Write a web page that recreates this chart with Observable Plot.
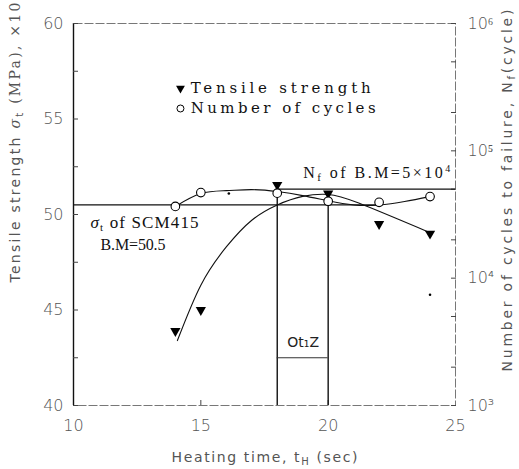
<!DOCTYPE html>
<html>
<head>
<meta charset="utf-8">
<script src="https://cdn.jsdelivr.net/npm/d3@7"></script>
<script src="https://cdn.jsdelivr.net/npm/@observablehq/plot@0.6"></script>
<style>
  html, body { margin: 0; padding: 0; background: #fff; }
  #wrap { position: relative; width: 519px; height: 469px; }
  #wrap > svg { position: absolute; left: 0; top: 0; }
</style>
</head>
<body>
<div id="wrap"></div>
<script>
// ---------- data ----------
const times = [14, 15, 18, 20, 22, 24];
const tensile = [43.9, 45.0, 51.55, 51.1, 49.5, 49.0];          // sigma_t (MPa) x10
const cycles = [36600, 47000, 46500, 40200, 39400, 43700];       // Nf (cycles)
const strayX = [16.1, 24];
const strayY = [51.1, 45.8];
const tensileFitX = [14.08, 15, 16, 17, 18, 19, 20, 21.2, 24];
const tensileFitY = [43.4, 46.3, 48.3, 49.7, 50.5, 50.95, 51.05, 50.6, 49.05];
const cyclesFitX = [14, 15, 16, 17, 18, 19, 20, 21, 22, 23, 24];
const cyclesFitN = [36600, 46200, 48700, 49600, 47900, 44500, 40500, 37600, 37600, 40000, 43700];
const sigmaBM = 50.5;
const nfBM = 5e4;
const markTimes = [18, 20];
const markTops = [51.5, 51.1];
const otzLevel = 42.5;
const xTicks = [10, 15, 20, 25];
const yTicks = [40, 45, 50, 55, 60];
const yMinor = [42.5, 47.5, 52.5, 57.5];
const nTicks = [1e3, 1e4, 1e5, 1e6];
const nMinor = [2e3, 5e3, 2e4, 5e4, 2e5, 5e5];
const legendLabels = ["Tensile strength", "Number of cycles"];
const xLabel = "Heating time, tH (sec)";
const yLabel = "Tensile strength σt (MPa), ×10";
const nLabel = "Number of cycles to failure, Nf(cycle)";
const noteNf = "Nf of B.M=5×104";
const noteSigma = "σt of SCM415";
const noteBM = "B.M=50.5";
const noteOtz = "Ot₁Z";

const W = 519, H = 469;
const M = {marginLeft: 73, marginRight: 64, marginTop: 23, marginBottom: 64};
const sans = "DejaVu Sans";
const serif = "DejaVu Serif";
const times_ = "Liberation Serif";
const grey = "#555";

const tens = times.map((t, i) => ({t, v: tensile[i]}));
const cyc = times.map((t, i) => ({t, n: cycles[i]}));
const stray = strayX.map((t, i) => ({t, v: strayY[i]}));
const tFit = tensileFitX.map((t, i) => ({t, v: tensileFitY[i]}));
const cFit = cyclesFitX.map((t, i) => ({t, n: cyclesFitN[i]}));
const marks = markTimes.map((t, i) => ({t, top: markTops[i]}));

const main = Plot.plot({
  width: W, height: H, ...M,
  x: {domain: [10, 25]},
  y: {domain: [40, 60]},
  style: {background: "transparent", fontFamily: sans},
  marks: [
    Plot.frame({stroke: "#777", strokeDasharray: "9 2"}),
    Plot.ruleX([10], {stroke: "#111", strokeWidth: 1.4}),
    Plot.axisX({ticks: xTicks, tickSize: 0, tickPadding: 14, fontSize: 16, fill: grey, fontWeight: 300, label: null}),
    Plot.axisX({ticks: [15, 20], tickSize: -5, tickFormat: () => "", label: null, stroke: "#444"}),
    Plot.axisY({ticks: yTicks, tickSize: 0, tickPadding: 10, fontSize: 16, fill: grey, fontWeight: 300, label: null}),
    Plot.axisY({ticks: [...yTicks, ...yMinor], tickSize: -5, tickFormat: () => "", label: null, stroke: "#444"}),
    // reference levels
    Plot.ruleY([sigmaBM], {x1: 10, x2: 22, stroke: "#111", strokeWidth: 1.2}),
    Plot.ruleX(marks, {x: "t", y1: 40, y2: "top", stroke: "#111", strokeWidth: 1.4}),
    Plot.ruleY([otzLevel], {x1: markTimes[0], x2: markTimes[1], stroke: "#333", strokeWidth: 1}),
    // fitted tensile curve
    Plot.line(tFit, {x: "t", y: "v", curve: "natural", stroke: "#111", strokeWidth: 1.1}),
    Plot.dot(tens, {x: "t", y: "v", symbol: "triangle", rotate: 180, r: 3.8, fill: "#000", stroke: "none"}),
    Plot.dot(stray, {x: "t", y: "v", r: 1.3, fill: "#000", stroke: "none"}),
    // legend
    Plot.dot([legendLabels[0]], {x: 14.2, y: 56.6, symbol: "triangle", rotate: 180, r: 3.3, fill: "#000", stroke: "none"}),
    Plot.dot([legendLabels[1]], {x: 14.2, y: 55.55, r: 3.5, stroke: "#000", fill: "#fff", strokeWidth: 1}),
    Plot.text([legendLabels[0]], {x: 14.6, y: 56.6, text: d => d, textAnchor: "start", fontFamily: serif, fontSize: 15, fill: "#111"}),
    Plot.text([legendLabels[1]], {x: 14.6, y: 55.55, text: d => d, textAnchor: "start", fontFamily: serif, fontSize: 15, fill: "#111"}),
    // annotations
    Plot.text([noteNf], {x: 19.02, y: 52.2, text: d => d, textAnchor: "start", fontFamily: times_, fontSize: 16, fill: "#111"}),
    Plot.text([noteSigma], {x: 10.67, y: 49.6, text: d => d, textAnchor: "start", fontFamily: times_, fontSize: 17, fill: "#111"}),
    Plot.text([noteBM], {x: 11.06, y: 48.4, text: d => d, textAnchor: "start", fontFamily: times_, fontSize: 16, fill: "#111"}),
    Plot.text([noteOtz], {x: 19.02, y: 43.3, text: d => d, fontFamily: sans, fontSize: 14, fill: "#222"}),
    // axis titles
    Plot.text([yLabel], {frameAnchor: "left", textAnchor: "middle", lineAnchor: "middle", dx: -58, dy: -72, rotate: -90, text: d => d, fontSize: 14, fill: grey, fontFamily: sans}),
    Plot.text([nLabel], {frameAnchor: "right", textAnchor: "middle", lineAnchor: "middle", dx: 52, dy: -24, rotate: -90, text: d => d, fontSize: 14, fill: grey, fontFamily: sans}),
    Plot.text([xLabel], {frameAnchor: "bottom", textAnchor: "middle", lineAnchor: "middle", dy: 52, text: d => d, fontSize: 14, fill: grey, fontFamily: sans})
  ]
});

const sup = {"3": "³", "4": "⁴", "5": "⁵", "6": "⁶"};
const over = Plot.plot({
  width: W, height: H, ...M,
  x: {domain: [10, 25], axis: null},
  y: {type: "log", domain: [1e3, 1e6]},
  style: {background: "transparent", fontFamily: sans},
  marks: [
    Plot.axisY({anchor: "right", ticks: nTicks, tickSize: 0, tickPadding: 12, fontSize: 16, fill: grey, fontWeight: 300,
      tickFormat: d => "10" + sup[String(Math.round(Math.log10(d)))], label: null}),
    Plot.axisY({anchor: "right", ticks: [...nTicks, ...nMinor], tickSize: -5, tickFormat: () => "", label: null, stroke: "#444"}),
    Plot.ruleY([nfBM], {x1: markTimes[0], x2: 25, stroke: "#111", strokeWidth: 1.2}),
    Plot.line(cFit, {x: "t", y: "n", curve: "natural", stroke: "#111", strokeWidth: 1.1}),
    Plot.dot(cyc, {x: "t", y: "n", r: 4.3, stroke: "#000", fill: "#fff", strokeWidth: 1.1})
  ]
});

const wrap = document.getElementById("wrap");
wrap.appendChild(main);
wrap.appendChild(over);

// rich text (subscripts / superscripts / italics) and fitted lengths
const NS = "http://www.w3.org/2000/svg";
function rich(svg, plain, parts, len) {
  svg.querySelectorAll("text").forEach(t => {
    if (t.textContent !== plain) return;
    if (parts) {
      while (t.firstChild) t.removeChild(t.firstChild);
      for (const p of parts) {
        const ts = document.createElementNS(NS, "tspan");
        ts.textContent = p.t;
        for (const k in (p.a || {})) ts.setAttribute(k, p.a[k]);
        t.appendChild(ts);
      }
    }
    if (len) {
      t.setAttribute("textLength", len);
      t.setAttribute("lengthAdjust", "spacing");
    }
  });
}
rich(main, legendLabels[0], null, 180);
rich(main, legendLabels[1], null, 185);
rich(main, noteNf, [
  {t: "N"}, {t: "f", a: {dy: "3", "font-size": 11}}, {t: " of B.M=5×10", a: {dy: "-3"}},
  {t: "4", a: {dy: "-6", "font-size": 10}}
], 147);
rich(main, noteSigma, [
  {t: "σ", a: {"font-style": "italic"}}, {t: "t", a: {dy: "3", "font-size": 11}}, {t: " of SCM415", a: {dy: "-3"}}
], 108);
rich(main, noteBM, null, 65);
rich(main, xLabel, [
  {t: "Heating time, t"}, {t: "H", a: {dy: "3", "font-size": 10}}, {t: " (sec)", a: {dy: "-3"}}
], 186);
rich(main, yLabel, [
  {t: "Tensile strength "}, {t: "σ", a: {"font-style": "italic", "font-family": serif}},
  {t: "t", a: {dy: "3", "font-size": 10}}, {t: " (MPa), ×10", a: {dy: "-3", "font-family": serif}}
], 280);
rich(main, nLabel, [
  {t: "Number of cycles to failure, N"}, {t: "f", a: {dy: "3", "font-size": 10}}, {t: "(cycle)", a: {dy: "-3"}}
], 362);
</script>
</body>
</html>
